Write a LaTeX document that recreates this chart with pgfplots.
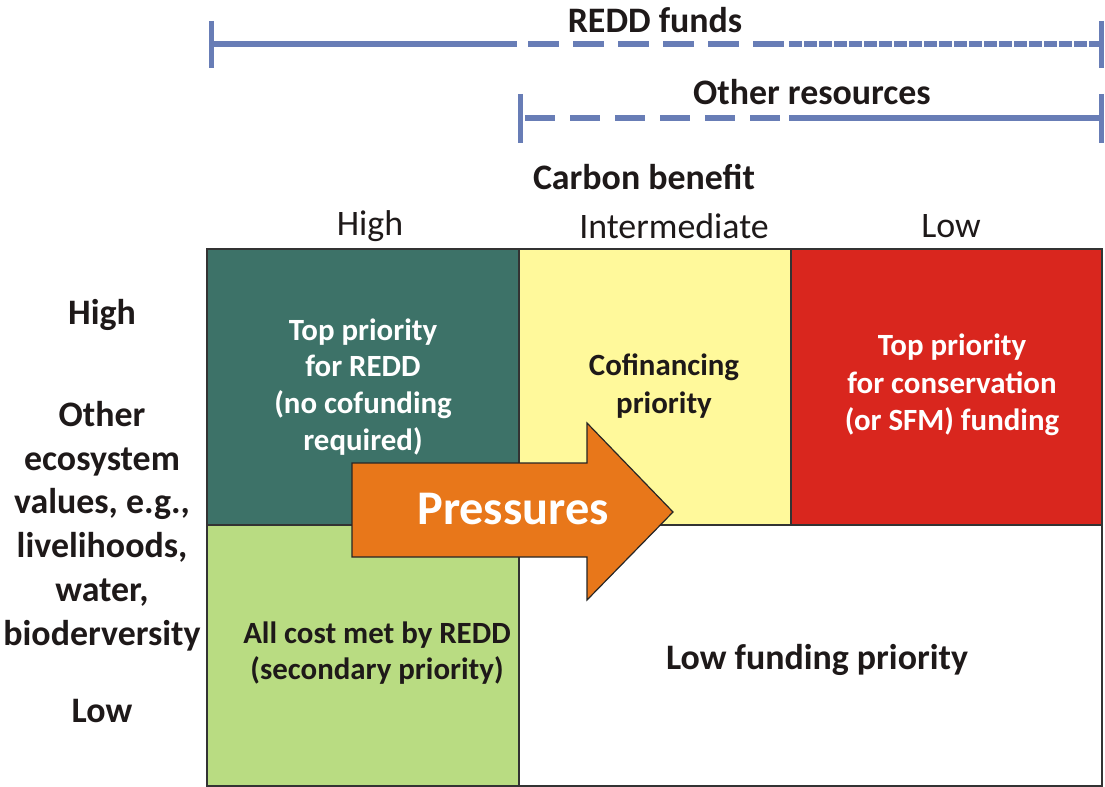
\documentclass[border=0pt]{standalone}
\usepackage{pgfplots}
\pgfplotsset{compat=1.18}
\usepackage{fontspec}
\setmainfont{Carlito}
\definecolor{lineblue}{RGB}{104,125,182}
\definecolor{teal}{RGB}{61,114,104}
\definecolor{paleyellow}{RGB}{255,249,155}
\definecolor{redcell}{RGB}{217,38,30}
\definecolor{greencell}{RGB}{185,220,130}
\definecolor{orangearrow}{RGB}{232,119,26}
\definecolor{txt}{RGB}{30,25,25}
\begin{document}
\begin{tikzpicture}
\begin{axis}[hide axis, scale only axis, width=1105bp, height=787bp,
  xmin=0, xmax=1105, ymin=0, ymax=787, y dir=reverse, clip=false]
% cells
\addplot[fill=teal, draw=black!80, line width=1.5bp] coordinates {(207,249) (519,249) (519,525) (207,525)} -- cycle;
\addplot[fill=paleyellow, draw=black!80, line width=1.5bp] coordinates {(519,249) (791,249) (791,525) (519,525)} -- cycle;
\addplot[fill=redcell, draw=black!80, line width=1.5bp] coordinates {(791,249) (1102,249) (1102,525) (791,525)} -- cycle;
\addplot[fill=greencell, draw=black!80, line width=1.5bp] coordinates {(207,525) (519,525) (519,786) (207,786)} -- cycle;
\addplot[fill=white, draw=black!80, line width=1.5bp] coordinates {(519,525) (1102,525) (1102,786) (519,786)} -- cycle;
% arrow
\addplot[fill=orangearrow, draw=black!85, line width=1.2bp] coordinates {(352,463) (587,463) (587,423) (673,512) (587,600) (587,557) (352,557)} -- cycle;
% REDD funds line
\addplot[lineblue, line width=6bp] coordinates {(211,44) (517,44)};
\addplot[lineblue, line width=6bp, dash pattern=on 31bp off 14bp] coordinates {(528,44) (784,44)};
\addplot[lineblue, line width=6bp, dash pattern=on 12.5bp off 2.5bp] coordinates {(789,44) (1100,44)};
\addplot[lineblue, line width=5bp] coordinates {(211,21) (211,68)};
\addplot[lineblue, line width=5bp] coordinates {(1101,21) (1101,68)};
% Other resources line
\addplot[lineblue, line width=6bp, dash pattern=on 30bp off 15bp] coordinates {(525,118) (780,118)};
\addplot[lineblue, line width=6bp] coordinates {(789,118) (1100,118)};
\addplot[lineblue, line width=5bp] coordinates {(520,94) (520,143)};
\addplot[lineblue, line width=5bp] coordinates {(1101,94) (1101,143)};
% texts
\node[font=\bfseries\fontsize{36}{40}\selectfont, text=txt] at (axis cs:655,20) {REDD funds};
\node[font=\bfseries\fontsize{36}{40}\selectfont, text=txt] at (axis cs:812,92) {Other resources};
\node[font=\bfseries\fontsize{36}{40}\selectfont, text=txt] at (axis cs:644,177) {Carbon benefit};
\node[font=\fontsize{36}{40}\selectfont, text=txt] at (axis cs:370,226) {High};
\node[font=\fontsize{36}{40}\selectfont, text=txt] at (axis cs:674,226) {Intermediate};
\node[font=\fontsize{36}{40}\selectfont, text=txt] at (axis cs:951,226) {Low};
\node[font=\bfseries\fontsize{36}{40}\selectfont, text=txt] at (axis cs:102,315) {High};
\node[font=\bfseries\fontsize{36}{44}\selectfont, text=txt, align=center] at (axis cs:102,526) {Other\\ecosystem\\values, e.g.,\\livelihoods,\\water,\\bioderversity};
\node[font=\bfseries\fontsize{36}{40}\selectfont, text=txt] at (axis cs:102,711) {Low};
\node[font=\bfseries\fontsize{31}{37}\selectfont, text=white, align=center] at (axis cs:363,387) {Top priority\\for REDD\\(no cofunding\\required)};
\node[font=\bfseries\fontsize{31}{38}\selectfont, text=txt, align=center] at (axis cs:664,386) {Cofinancing\\priority};
\node[font=\bfseries\fontsize{31}{37.5}\selectfont, text=white, align=center] at (axis cs:952,385) {Top priority\\for conservation\\(or SFM) funding};
\node[font=\bfseries\fontsize{31}{36}\selectfont, text=txt, align=center] at (axis cs:377,653) {All cost met by REDD\\(secondary priority)};
\node[font=\bfseries\fontsize{36}{40}\selectfont, text=txt] at (axis cs:817,660) {Low funding priority};
\node[font=\bfseries\fontsize{48.5}{52}\selectfont, text=white] at (axis cs:513,509) {Pressures};
\end{axis}
\pgfresetboundingbox
\path[use as bounding box] (current axis.south west) rectangle (current axis.north east);
\end{tikzpicture}
\end{document}
